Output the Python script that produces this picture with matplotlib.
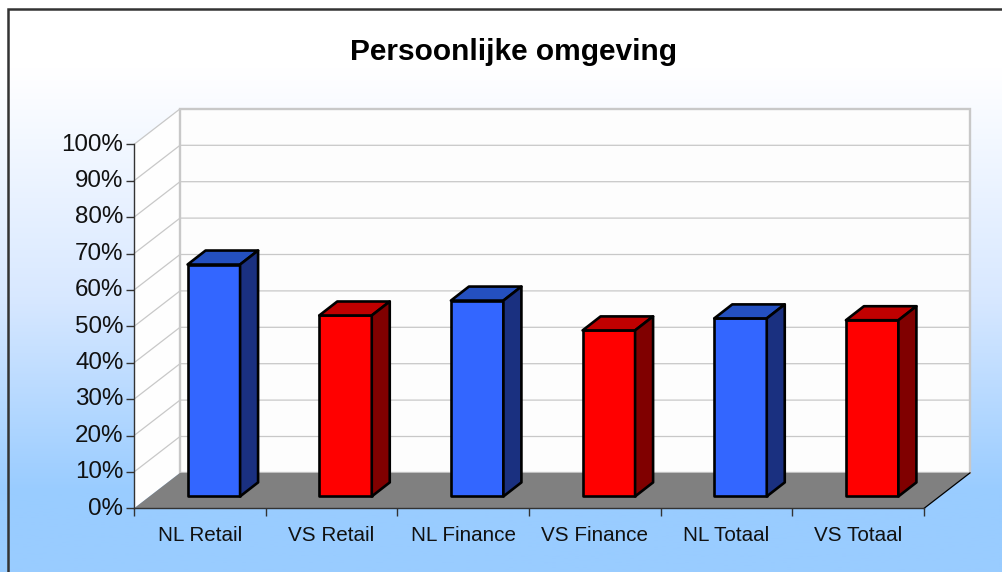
import numpy as np
import matplotlib
matplotlib.use("Agg")
import matplotlib.pyplot as plt
import matplotlib.transforms as mtrans
from matplotlib.colors import LinearSegmentedColormap
from matplotlib.patches import Polygon, Rectangle

categories = ["NL Retail", "VS Retail", "NL Finance", "VS Finance", "NL Totaal", "VS Totaal"]
values = [63.7, 49.7, 53.8, 45.6, 48.9, 48.4]
y_ticks = [0, 10, 20, 30, 40, 50, 60, 70, 80, 90, 100]
y_tick_labels = [f"{v}%" for v in y_ticks]
title = "Persoonlijke omgeving"

W, H = 1003, 572
plt.rcParams["font.family"] = ["Liberation Sans", "DejaVu Sans"]
fig = plt.figure(figsize=(W / 100, H / 100), dpi=100)

# background gradient
bg = fig.add_axes([0, 0, 1, 1], zorder=0)
bg.set_axis_off()
cmap = LinearSegmentedColormap.from_list(
    "g", [(0, "#ffffff"), (0.12, "#ffffff"), (0.52, "#d8e8ff"), (0.86, "#99ccff"), (1, "#99ccff")])
bg.imshow(np.linspace(0, 1, 256)[:, None], aspect="auto", cmap=cmap, extent=[0, 1, 0, 1],
          origin="upper", vmin=0, vmax=1)
bg.set_xlim(0, 1)
bg.set_ylim(0, 1)
bg.add_patch(Rectangle((8 / W, -0.1), (W + 20) / W, 1.1 - 8.5 / H, fill=False,
                       ec="#333333", lw=1.8, clip_on=False))

# plot axes: front plane
L, R, T, B = 134, 924, 144.4, 508.4
ax = fig.add_axes([L / W, 1 - B / H, (R - L) / W, (B - T) / H], zorder=1)
ax.set_xlim(0, len(categories))
ax.set_ylim(0, 100)
ax.patch.set_alpha(0)

px = (R - L) / len(categories)   # px per category
py = (B - T) / 100               # px per percent
dxw, dyw = 46 / px, 35.5 / py    # full wall depth
dxb, dyb = 18 / px, 14 / py      # bar depth
ox, oy = 14 / px, 12 / py        # bar front-face offset
bw = 52.5 / px                   # bar width
n = len(categories)

# walls
ax.add_patch(Polygon([(0, 0), (dxw, dyw), (dxw, 100 + dyw), (0, 100)], fc="#fefefe", ec="none",
                     clip_on=False, zorder=1))
ax.add_patch(Rectangle((dxw, dyw), n, 100, fc="#fdfdfd", ec="#c8c8c8", lw=1.7, clip_on=False, zorder=1))
ax.add_patch(Polygon([(0, 0), (n, 0), (n + dxw, dyw), (dxw, dyw)], fc="#808080", ec="none",
                     clip_on=False, zorder=2))
ax.plot([n, n + dxw], [0, dyw], color="black", lw=0.9, clip_on=False, zorder=3)
for v in y_ticks[1:]:
    ax.plot([0, dxw, n + dxw], [v, v + dyw, v + dyw], color="#c8c8c8", lw=0.9, clip_on=False, zorder=1.5)

# bars
faces = [("#3366ff", "#2450c0", "#1a3080"), ("#ff0000", "#c00000", "#800000")]
for i, v in enumerate(values):
    front, top, side = faces[i % 2]
    x0 = i + 0.5 + ox - bw / 2
    x1 = x0 + bw
    kw = dict(ec="black", lw=1.9, joinstyle="round", clip_on=False, zorder=4)
    ax.add_patch(Polygon([(x0, oy), (x1, oy), (x1, v + oy), (x0, v + oy)], fc=front, **kw))
    ax.add_patch(Polygon([(x0, v + oy), (x1, v + oy), (x1 + dxb, v + oy + dyb), (x0 + dxb, v + oy + dyb)], fc=top, **kw))
    ax.add_patch(Polygon([(x1, oy), (x1 + dxb, oy + dyb), (x1 + dxb, v + oy + dyb), (x1, v + oy)], fc=side, **kw))

for s in ["top", "right"]:
    ax.spines[s].set_visible(False)
for s in ["left", "bottom"]:
    ax.spines[s].set_color("#333333")
    ax.spines[s].set_linewidth(1.0)
    ax.spines[s].set_zorder(5)

ax.set_yticks(y_ticks, y_tick_labels, fontsize=17.4, color="#111111")
ax.set_xticks(np.arange(n + 1))
ax.set_xticklabels([""] * (n + 1))
ax.set_xticks(np.arange(n) + 0.5, categories, minor=True, fontsize=14.85, color="#111111")
ax.tick_params(axis="x", which="minor", length=0, pad=12.8)
ax.tick_params(axis="x", which="major", length=6, width=1, color="#333333")
ax.tick_params(axis="y", length=6, width=1, color="#333333", pad=1.6)
shift = mtrans.ScaledTranslation(0, 2.3 / 100, fig.dpi_scale_trans)
for lab in ax.get_yticklabels():
    lab.set_transform(lab.get_transform() + shift)

fig.text(513.5 / W, 1 - 52 / H, title, ha="center", va="center", fontsize=21.5, fontweight="bold", color="black")

fig.savefig("out.png", dpi=100)
